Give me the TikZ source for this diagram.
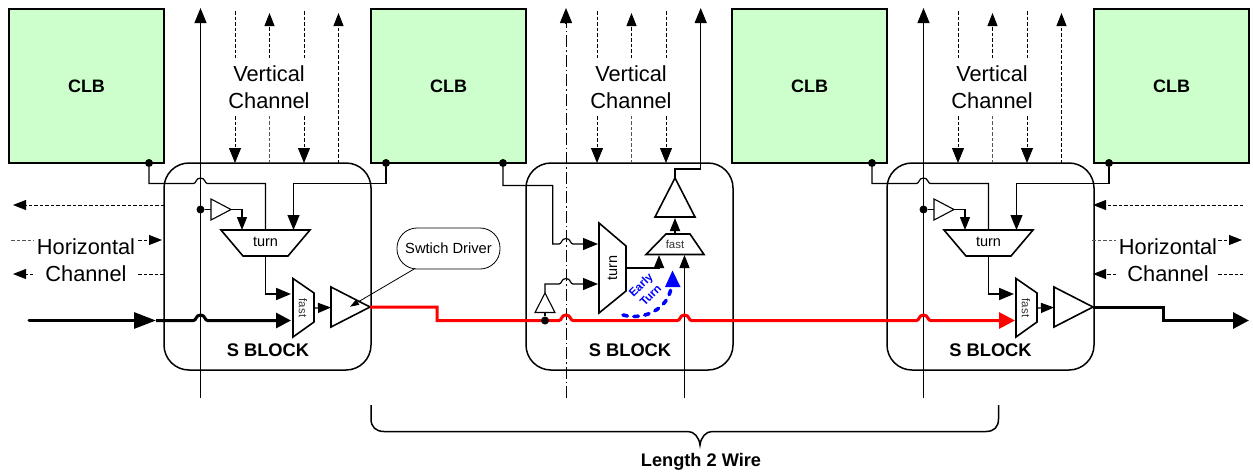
\documentclass[tikz,border=0pt]{standalone}
\usepackage{fontspec}
\setmainfont{Liberation Sans}
\usetikzlibrary{arrows.meta,calc,shapes.geometric}
\definecolor{clbgreen}{HTML}{CCFFCC}
\definecolor{dashgray}{HTML}{555555}
\tikzset{
  clb/.style={draw,line width=1.5pt,outer sep=0pt,fill=clbgreen,minimum width=155pt,minimum height=154pt,inner sep=0pt,anchor=north west,font=\fontsize{18}{20}\selectfont\bfseries},
  sblock/.style={draw,line width=1.5pt,outer sep=0pt,rounded corners=25pt,minimum width=207pt,minimum height=207pt,inner sep=0pt,anchor=north west},
  sblab/.style={font=\fontsize{18.3}{20}\selectfont\bfseries,inner sep=0pt},
  chan/.style={font=\fontsize{21.8}{24}\selectfont,inner sep=0pt,align=center},
  wire/.style={line width=1.2pt},
  mwire/.style={line width=1.8pt},
  part/.style={line width=1.6pt,fill=white,line join=miter},
  small/.style={line width=1.1pt,fill=white},
  dsh/.style={line width=.9pt,dash pattern=on 3.5pt off 2pt},
  gdsh/.style={dsh,dashgray},
  ah/.style={-{Triangle[length=15pt,width=12pt]}},
  ahs/.style={-{Triangle[length=13pt,width=10pt]}},
  dot/.style={circle,fill=black,minimum size=8pt,inner sep=0pt},
  turnlab/.style={font=\fontsize{14.5}{16}\selectfont,inner sep=0pt},
  fastlab/.style={font=\fontsize{11.4}{12}\selectfont,inner sep=0pt,text=black!80},
}
\newcommand{\hop}[2]{-- ({#1-7},#2) .. controls ({#1-4},#2) and ({#1-5},{#2-5.5}) .. (#1,{#2-5.5}) .. controls ({#1+5},{#2-5.5}) and ({#1+4},#2) .. ({#1+7},#2) }
\begin{document}
\begin{tikzpicture}[x=1pt,y=-1pt]
\useasboundingbox (0,0) rectangle (1253,472);
% CLBs
\node[clb] (clbA) at (9,9) {CLB};
\node[clb] (clbB) at (371,9) {CLB};
\node[clb] (clbC) at (732,9) {CLB};
\node[clb] (clbD) at (1094,9) {CLB};
% S blocks
\node[sblock] (sA) at (164,163) {};
\node[sblock] (sB) at (526,163) {};
\node[sblock] (sC) at (887,163) {};
\node[sblab] (sAl) at (268,350) {S BLOCK};
\node[sblab] (sBl) at (630,350) {S BLOCK};
\node[sblab] (sCl) at (990.5,350) {S BLOCK};
% vertical channels
\foreach \o/\n in {0/A,362/B,723/C}{
  \node[chan] (vch\n) at ({269+\o},87) {Vertical\\[3pt]Channel};
  \draw[dsh] ({235+\o},11) -- ({235+\o},58);
  \draw[dsh,ah] ({235+\o},116) -- ({235+\o},163);
  \draw[gdsh] ({269.5+\o},163) -- ({269.5+\o},115);
  \draw[gdsh,ahs,black] ({269.5+\o},58) -- ({269.5+\o},13);
  \draw[dsh] ({304+\o},11) -- ({304+\o},58);
  \draw[dsh,ah] ({304+\o},116) -- ({304+\o},163);
}
\foreach \o in {0,723}{
  \draw[gdsh,ahs,black] ({338.5+\o},163) -- ({338.5+\o},13);
}
% horizontal channels
\node[chan] (hchL) at (86,260) {Horizontal\\[3pt]Channel};
\node[chan] (hchR) at (1168,260) {Horizontal\\[3pt]Channel};
\draw[dsh,ahs] (164,205) -- (13,205);
\draw[gdsh] (11,240) -- (34,240);
\draw[gdsh,ahs,black] (138,240) -- (162,240);
\draw[dsh,ahs] (33,274) -- (13,274);
\draw[dsh] (138,274) -- (164,274);
\draw[dsh,ahs] (1243,205) -- (1093,205);
\draw[gdsh] (1092,240) -- (1116,240);
\draw[gdsh,ahs,black] (1218,240) -- (1242,240);
\draw[dsh,ahs] (1116,274) -- (1093,274);
\draw[dsh] (1218,274) -- (1243,274);
% left and right S block (same inner layout)
\foreach \o/\n in {0/A,723/C}{
  \begin{scope}[shift={(\o,0)}]
    \coordinate (up\n) at (200.5,8);
    \coordinate (dn\n) at (200.5,398);
    \draw[wire,ah] (dn\n) -- (up\n);
    \node[dot] (d\n) at (200.5,209.5) {};
    \coordinate (bi\n) at (211,209.5);
    \coordinate (bo\n) at (231,209.5);
    \draw[wire] (d\n) -- (bi\n);
    \draw[small] (bi\n) -- (211,199) -- (bo\n) -- (211,220) -- cycle;
    \coordinate (tl\n) at (242,230);
    \coordinate (tr\n) at (293.5,230);
    \coordinate (tm\n) at (265.5,230);
    \coordinate (tb\n) at (265.5,256);
    \draw[wire,ahs] (bo\n) -| (tl\n);
    \node[dot] (cl\n) at (149,163) {};
    \node[dot] (cr\n) at (386,163) {};
    \draw[wire] (cl\n) -- (149,183.5) \hop{200.5}{183.5} -- (265.5,183.5) -- (tm\n);
    \draw[wire,ah] (cr\n) -- (386,183.5) -- (293.5,183.5) -- (tr\n);
    \draw[part] (221,230) -- (310,230) -- (288,256) -- (243,256) -- cycle;
    \node[turnlab] (tt\n) at (265.5,242) {turn};
    \coordinate (fi\n) at (291,294);
    \coordinate (fj\n) at (291,320.5);
    \draw[mwire,ah] (tb\n) -- (265.5,294) -- (fi\n);
    \draw[part] (293,278.5) -- (314,293) -- (314,322) -- (293,337) -- cycle;
    \node[fastlab,rotate=-90] (ff\n) at (303,308) {fast};
    \coordinate (fo\n) at (314,308);
    \coordinate (gi\n) at (331,307.5);
    \draw[wire,ahs] (fo\n) -- (gi\n);
    \draw[part] (331,287) -- (370,307) -- (331,327) -- cycle;
  \end{scope}
}
% middle S block
\coordinate (upB) at (566,8);
\coordinate (dnB) at (566,398);
\coordinate (upBh) at (566,24);
\draw[line width=.9pt,dash pattern=on 12pt off 3pt on 1.5pt off 3pt] (dnB) -- (upBh);
\draw[wire,ah] (upBh) -- (upB);
\node[dot] (crB) at (503,163) {};
\coordinate (ti1) at (598,244);
\coordinate (ti2) at (598,284);
\draw[wire,ah] (crB) -- (503,185.5) -- (552.7,185.5) -- (552.7,244) \hop{566}{244} -- (ti1);
\draw[small] (535,312.5) -- (545,293) -- (555,312.5) -- cycle;
\draw[wire,ah] (545,293) -- (545,284) \hop{566}{284} -- (ti2);
\draw[part] (599,223) -- (626,246) -- (626,291) -- (599,313) -- cycle;
\node[turnlab,rotate=90] (ttB) at (612.5,268) {turn};
\coordinate (fi1) at (659,255);
\coordinate (fi2) at (684.5,255);
\draw[mwire,ahs] (626,268) -- (659,268) -- (fi1);
\coordinate (dn2) at (684.5,398);
\draw[wire,ahs] (dn2) -- (fi2);
\draw[part] (666,234) -- (690,234) -- (704,254.5) -- (646,254.5) -- cycle;
\node[fastlab] (ffB) at (675,244) {fast};
\coordinate (fo2) at (675,234);
\coordinate (gi2) at (675,218);
\draw[mwire,ahs] (fo2) -- (gi2);
\draw[part] (675,178) -- (695,217) -- (655,217) -- cycle;
\coordinate (up2) at (700.7,8);
\draw[wire,ah] (675,178) -- (675,169) -- (700.7,169) -- (up2);
% Early turn
\draw[line width=3.6pt,blue,dash pattern=on 4.5pt off 6.5pt,line cap=round] (623,315) .. controls (645,321) and (668,308) .. (671,288);
\path[fill=blue] (672.5,270.5) -- (680.5,287) -- (665,287) -- cycle;
\node[font=\fontsize{11.5}{12}\selectfont\bfseries,text=blue,rotate=45,inner sep=0pt] (et1) at (641.5,285.5) {Early};
\node[font=\fontsize{11.5}{12}\selectfont\bfseries,text=blue,rotate=45,inner sep=0pt] (et2) at (650.5,295.5) {Turn};
% main path
\coordinate (inS) at (29,320.5);
\coordinate (inH) at (156,320.5);
\draw[line width=3pt,line cap=round,-{Triangle[length=22pt,width=16pt]}] (inS) -- (inH);
\draw[line width=3pt,-{Triangle[length=15pt,width=15pt]}] (inH) \hop{200.5}{320.5} -- (fjA);
\draw[line width=3pt,red,-{Triangle[length=16pt,width=16pt]}] (370,307) -- (437,307) -- (437,320.5) \hop{566}{320.5} \hop{684.5}{320.5} \hop{923.5}{320.5} -- (1015,320.5);
\draw[line width=3pt,-{Triangle[length=16pt,width=16pt]}] (1093,307) -- (1163,307) -- (1163,320.5) -- (1249,320.5);
\node[dot] (dB) at (545,320.5) {};
\draw[wire] (dB) -- (545,312.5);
% Switch driver
\node[draw,line width=.8pt,rounded corners=20pt,minimum width=103pt,minimum height=41pt,inner sep=0pt,outer sep=0pt,fill=white,font=\fontsize{14.7}{16}\selectfont] (sw) at (448.5,248.5) {Swtich Driver};
\coordinate (swt) at (350,306.7);
\draw[line width=.8pt,-{Triangle[length=9pt,width=6pt]}] (415,268.5) -- (swt);
% brace
\node[font=\fontsize{18.2}{20}\selectfont\bfseries,inner sep=0pt] (len) at (701,462) {Length 2 Wire};
\draw[line width=1.5pt] (371,405) -- (371,419) .. controls (371,427) and (376,431.5) .. (384,431.5) -- (688,431.5) .. controls (694,431.5) and (699,437) .. (700,445) .. controls (701,437) and (706,431.5) .. (712,431.5) -- (986,431.5) .. controls (994,431.5) and (998.5,427) .. (998.5,419) -- (998.5,405);
\end{tikzpicture}
\end{document}
